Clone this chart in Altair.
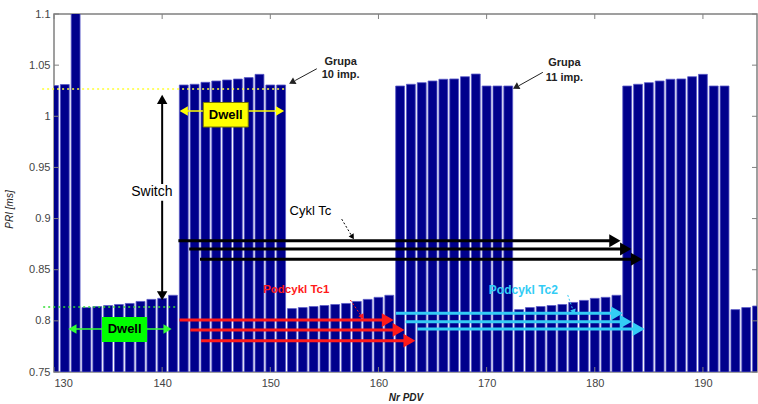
import altair as alt
import pandas as pd

# ---------------- data ----------------
pdv = list(range(130, 196))
pri = ([1.030, 1.031, 1.12]
       + [0.813, 0.814, 0.815, 0.816, 0.817, 0.819, 0.821, 0.822, 0.825]
       + [1.0306, 1.0313, 1.0332, 1.0345, 1.0355, 1.0364, 1.0378, 1.0410, 1.0306, 1.0306]
       + [0.812, 0.813, 0.814, 0.815, 0.816, 0.817, 0.819, 0.821, 0.823, 0.825]
       + [1.0296, 1.0313, 1.0329, 1.0345, 1.0362, 1.0365, 1.0387, 1.0413, 1.0296, 1.0296, 1.0296]
       + [0.811, 0.813, 0.814, 0.815, 0.816, 0.818, 0.820, 0.822, 0.823, 0.825]
       + [1.0296, 1.0313, 1.0329, 1.0345, 1.0362, 1.0365, 1.0387, 1.0410, 1.0296, 1.0296]
       + [0.811, 0.813, 0.8145])
x_ticks = [130, 140, 150, 160, 170, 180, 190]
y_ticks = [0.75, 0.8, 0.85, 0.9, 0.95, 1.0, 1.05, 1.1]

cycle_y = [0.8784, 0.8703, 0.8602]
cycle_start = [141.5, 142.5, 143.5]
cycle_end = [182.4, 183.4, 184.4]

sub1_y = [0.8008, 0.7911, 0.7806]
sub1_start = [141.6, 142.6, 143.6]
sub1_end = [161.4, 162.4, 163.4]

sub2_y = [0.8074, 0.7992, 0.7920]
sub2_start = [161.6, 162.5, 163.6]
sub2_end = [182.6, 183.4, 184.6]

# --------------- scales ---------------
xs = alt.Scale(domain=[130, 195], nice=False, zero=False)
ys = alt.Scale(domain=[0.75, 1.1], nice=False, zero=False)
W, H = 703, 358
FONT = "Liberation Sans"

X_AXIS = alt.Axis(values=x_ticks, format="d", ticks=False, domain=False, grid=False,
                  labelFont=FONT, labelFontSize=11, labelColor="#444", labelPadding=5,
                  titleFont=FONT, titleFontSize=10, titleFontStyle="italic",
                  titleFontWeight="bold", titleColor="#222", titlePadding=4)
Y_AXIS = alt.Axis(values=y_ticks, labelExpr="format(datum.value, '.3~f')",
                  ticks=False, domain=False, grid=False,
                  labelFont=FONT, labelFontSize=11, labelColor="#444", labelPadding=4,
                  titleFont=FONT, titleFontSize=10, titleFontStyle="italic",
                  titleFontWeight="normal", titleColor="#222", titleX=-40, titleY=195)
X_TITLE = "Nr PDV"
Y_TITLE = "PRI [ms]"


def X(f):
    return alt.X(f, type="quantitative", scale=xs, axis=X_AXIS, title=X_TITLE)


def Y(f):
    return alt.Y(f, type="quantitative", scale=ys, axis=Y_AXIS, title=Y_TITLE)


bars_df = pd.DataFrame({"pdv": pdv, "pri": pri})
bars = alt.Chart(bars_df).transform_calculate(
    lo="datum.pdv - 0.41", hi="datum.pdv + 0.41", base="0.75"
).mark_rect(clip=True, color="#00008c", stroke="#5a5ac8", strokeWidth=0.8).encode(
    x=X("lo"), x2="hi:Q", y=Y("base"), y2="pri:Q",
)

# inward ticks (matlab style)
xt = pd.DataFrame({"t": x_ticks})
yt = pd.DataFrame({"t": y_ticks})
tick_col = "#808080"
xticks_top = alt.Chart(xt).mark_rule(color=tick_col, strokeWidth=1).encode(
    x=X("t"), y=alt.value(0), y2=alt.value(5))
xticks_bot = alt.Chart(xt).mark_rule(color=tick_col, strokeWidth=1).encode(
    x=X("t"), y=alt.value(H), y2=alt.value(H - 5))
yticks_l = alt.Chart(yt).mark_rule(color=tick_col, strokeWidth=1).encode(
    y=Y("t"), x=alt.value(0), x2=alt.value(5))
yticks_r = alt.Chart(yt).mark_rule(color=tick_col, strokeWidth=1).encode(
    y=Y("t"), x=alt.value(W), x2=alt.value(W - 5))


def hline(x1, x2, y, color, width=1.0, dash=None):
    df = pd.DataFrame({"x1": [x1], "x2": [x2], "y": [y]})
    kw = dict(color=color, strokeWidth=width, clip=False)
    if dash:
        kw["strokeDash"] = dash
    return alt.Chart(df).mark_rule(**kw).encode(x=X("x1"), x2="x2", y=Y("y"))


def seg(x1, y1, x2, y2, color, width=1.0, dash=None):
    df = pd.DataFrame({"x1": [x1], "x2": [x2], "y1": [y1], "y2": [y2]})
    kw = dict(color=color, strokeWidth=width, clip=False)
    if dash:
        kw["strokeDash"] = dash
    return alt.Chart(df).mark_rule(**kw).encode(x=X("x1"), x2="x2", y=Y("y1"), y2="y2")


def head(x, y, shape, color, size, angle=0):
    df = pd.DataFrame({"x": [x], "y": [y]})
    kw = dict(shape=shape, filled=True, color=color, size=size, opacity=1, clip=False)
    if angle:
        kw["angle"] = angle
    return alt.Chart(df).mark_point(**kw).encode(x=X("x"), y=Y("y"))


def arrow_set(starts, ends, ys_, color, width, size, off):
    df = pd.DataFrame({"x1": starts, "x2": [e - off for e in ends], "y": ys_,
                       "h": [e - off * 0.9 for e in ends]})
    lines = alt.Chart(df).mark_rule(color=color, strokeWidth=width).encode(
        x=X("x1"), x2="x2", y=Y("y"))
    heads = alt.Chart(df).mark_point(shape="triangle-right", filled=True, color=color,
                                     size=size, opacity=1).encode(x=X("h"), y=Y("y"))
    return [lines, heads]


def label(x, y, txt, color="#000", size=12, weight="normal", align="center"):
    df = pd.DataFrame({"x": [x], "y": [y], "t": [txt]})
    return alt.Chart(df).mark_text(font=FONT, fontSize=size, fontWeight=weight, color=color,
                                   align=align, baseline="middle").encode(
        x=X("x"), y=Y("y"), text="t:N")


def box(x1, x2, y1, y2, fill, stroke=None):
    df = pd.DataFrame({"x1": [x1], "x2": [x2], "y1": [y1], "y2": [y2]})
    kw = dict(fill=fill, clip=False)
    if stroke:
        kw.update(stroke=stroke, strokeWidth=1)
    else:
        kw.update(strokeWidth=0)
    return alt.Chart(df).mark_rect(**kw).encode(x=X("x1"), x2="x2", y=Y("y1"), y2="y2")


layers = [bars, xticks_top, xticks_bot, yticks_l, yticks_r]

# dotted reference lines
layers.append(hline(128.9, 151.4, 1.0267, "#ffff33", 1.6, [2, 3]))
layers.append(hline(129.0, 141.4, 0.8136, "#33dd33", 1.6, [2, 3]))

# Switch arrow
layers.append(seg(140.0, 1.018, 140.0, 0.823, "#000", 2))
layers.append(head(140.0, 1.0165, "triangle-up", "#000", 110))
layers.append(head(140.0, 0.8245, "triangle-down", "#000", 110))
layers.append(box(136.75, 141.15, 0.9338, 0.9175, "#ffffff"))
layers.append(label(139.05, 0.9257, "Switch", size=14))

# Yellow Dwell
layers.append(hline(142.0, 150.9, 1.0052, "#ffff00", 1.5))
layers.append(head(142.0, 1.0052, "triangle-left", "#ffff00", 90))
layers.append(head(150.9, 1.0052, "triangle-right", "#ffff00", 90))
layers.append(box(143.8, 147.96, 1.0135, 0.9895, "#ffff00", "#777700"))
layers.append(label(145.88, 1.0015, "Dwell", size=13, weight="bold"))

# Green Dwell
layers.append(hline(131.7, 140.5, 0.792, "#33ff33", 1.5))
layers.append(head(131.7, 0.792, "triangle-left", "#33ff33", 90))
layers.append(head(140.5, 0.792, "triangle-right", "#33ff33", 90))
layers.append(box(134.44, 138.61, 0.8038, 0.7794, "#00ff00"))
layers.append(label(136.53, 0.7916, "Dwell", size=13, weight="bold"))

# Cycle arrows
layers += arrow_set(cycle_start, cycle_end, cycle_y, "#000000", 3, 170, 0.6)
layers += arrow_set(sub1_start, sub1_end, sub1_y, "#ff1a1a", 3, 190, 0.6)
layers += arrow_set(sub2_start, sub2_end, sub2_y, "#33ccf5", 3, 190, 0.6)

# labels + small pointer arrows
layers.append(label(153.7, 0.9074, "Cykl Tc", size=13))
layers.append(seg(156.6, 0.8995, 157.5, 0.8835, "#000", 1, [2, 2]))
layers.append(head(157.6, 0.8820, "triangle-up", "#000", 35, 148))

layers.append(label(152.4, 0.8302, "Podcykl Tc1", color="#ff1a1a", size=11.5, weight="bold"))
layers.append(seg(157.4, 0.8204, 158.4, 0.8050, "#ff1a1a", 1, [2, 2]))
layers.append(head(158.5, 0.8038, "triangle-up", "#ff1a1a", 35, 148))

layers.append(label(173.4, 0.8302, "Podcykl Tc2", color="#33ccf5", size=12, weight="bold"))
layers.append(seg(177.5, 0.8253, 178.0, 0.8100, "#33ccf5", 1, [2, 2]))
layers.append(head(178.06, 0.8087, "triangle-up", "#33ccf5", 35, 160))

# Grupa annotations
layers.append(label(156.5, 1.0531, "Grupa", color="#222", size=11, weight="bold"))
layers.append(label(156.5, 1.0400, "10 imp.", color="#222", size=11, weight="bold"))
layers.append(seg(154.3, 1.0465, 152.3, 1.0350, "#222", 1))
layers.append(head(152.0, 1.0333, "triangle-up", "#222", 55, 242))

layers.append(label(177.2, 1.0521, "Grupa", color="#222", size=11, weight="bold"))
layers.append(label(177.2, 1.0374, "11 imp.", color="#222", size=11, weight="bold"))
layers.append(seg(175.2, 1.0430, 173.0, 1.0300, "#222", 1))
layers.append(head(172.7, 1.0285, "triangle-up", "#222", 55, 242))

chart = alt.layer(*layers).properties(
    width=W, height=H,
    autosize=alt.AutoSizeParams(type="none"),
    padding={"left": 54, "top": 14, "right": 1, "bottom": 32},
    background="white",
).configure_view(stroke="#808080", strokeWidth=1.5)

chart.save("out.html", embed_options={"renderer": "svg", "actions": False})
